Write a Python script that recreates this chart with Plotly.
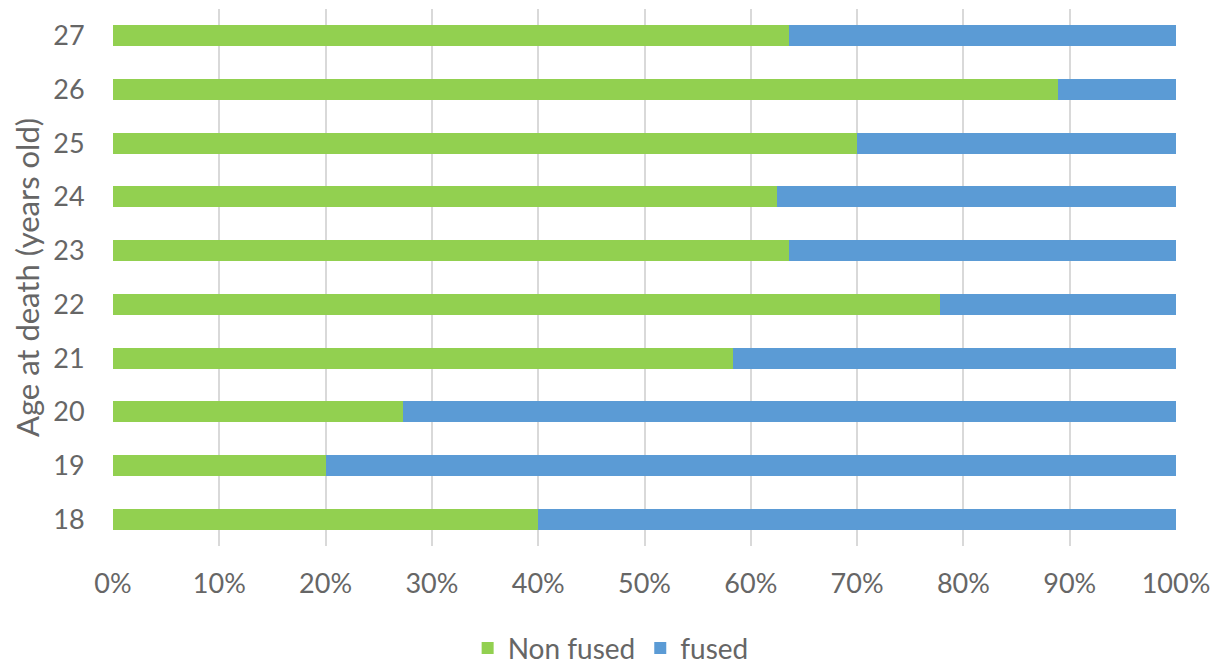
import plotly.graph_objects as go

ages = ["18", "19", "20", "21", "22", "23", "24", "25", "26", "27"]
non_fused = [40.0, 20.0, 27.3, 58.3, 77.8, 63.6, 62.5, 70.0, 88.9, 63.6]
fused = [60.0, 80.0, 72.7, 41.7, 22.2, 36.4, 37.5, 30.0, 11.1, 36.4]
x_ticks = [0, 10, 20, 30, 40, 50, 60, 70, 80, 90, 100]
x_tick_labels = [f"{v}%" for v in x_ticks]

FONT = "Lato"
GRAY = "#666666"

fig = go.Figure()
fig.add_trace(go.Bar(y=ages, x=non_fused, orientation="h", name="Non fused",
                     marker=dict(color="#92D050", line=dict(width=0))))
fig.add_trace(go.Bar(y=ages, x=fused, orientation="h", name="fused",
                     marker=dict(color="#5B9BD5", line=dict(width=0))))

fig.update_layout(
    barmode="stack",
    bargap=0.61,
    width=1215, height=660,
    margin=dict(l=105, r=47, t=1, b=122),
    paper_bgcolor="white", plot_bgcolor="white",
    font=dict(family=FONT, size=27, color=GRAY),
    showlegend=True,
    legend=dict(orientation="h", xref="container", yref="container",
                x=0.496, xanchor="center", y=0.03, yanchor="middle",
                font=dict(size=28, color=GRAY), traceorder="normal"),
    xaxis=dict(range=[0, 100], tickvals=x_ticks, ticktext=x_tick_labels,
               showgrid=True, gridcolor="#D9D9D9", gridwidth=2,
               zeroline=False, showline=False,
               ticks="outside", ticklen=14, tickcolor="rgba(0,0,0,0)",
               tickfont=dict(size=27, color=GRAY), fixedrange=True),
    yaxis=dict(categoryorder="array", categoryarray=ages,
               showgrid=False, zeroline=False, showline=False,
               ticks="outside", ticklen=22, tickcolor="rgba(0,0,0,0)",
               tickfont=dict(size=27, color=GRAY),
               title=dict(text="Age at death (years old)", standoff=14,
                          font=dict(size=31, color=GRAY))),
)

fig.write_html("out.html")
